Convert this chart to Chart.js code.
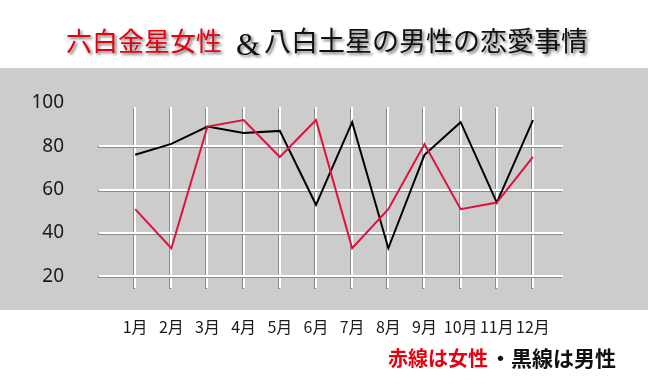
<!DOCTYPE html>
<html>
<head>
<meta charset="UTF-8">
<title>恋愛事情</title>
<style>
  body { margin: 0; background: #fff; }
  #wrap { width: 648px; height: 388px; }
</style>
</head>
<body>
<div id="wrap"><canvas id="chart"></canvas></div>

<script src="https://cdn.jsdelivr.net/npm/chart.js@4.4.0/dist/chart.umd.min.js"></script>

<script>
const months = ['1月', '2月', '3月', '4月', '5月', '6月', '7月', '8月', '9月', '10月', '11月', '12月'];
const womanValues = [51, 33, 89, 92, 75, 92, 33, 51, 81, 51, 54, 75];
const manValues = [76, 81, 89, 86, 87, 53, 91, 33, 76, 91, 54, 92];
const yTicks = [20, 40, 60, 80, 100];

const titleWoman = '六白金星女性';
const titleAmp = '&';
const titleMan = '八白土星の男性の恋愛事情';
const noteRed = '赤線は女性';
const noteBlack = '・黒線は男性';

const CJK = '"Noto Sans CJK JP", "Noto Sans", sans-serif';

// gray band, title, note under the chart
const decor = {
  id: 'decor',
  beforeDraw(chart) {
    const ctx = chart.ctx;
    ctx.save();
    ctx.fillStyle = '#cccccc';
    ctx.fillRect(0, 68, chart.width, 242);

    ctx.shadowColor = 'rgba(0,0,0,0.55)';
    ctx.shadowBlur = 3;
    ctx.shadowOffsetX = 2;
    ctx.shadowOffsetY = 2;
    ctx.textBaseline = 'middle';
    ctx.font = '26px ' + CJK;
    ctx.fillStyle = '#e60012';
    ctx.fillText(titleWoman, 66, 41);
    ctx.font = '31px "Liberation Serif", serif';
    ctx.fillStyle = '#111';
    ctx.fillText(titleAmp, 236, 47);
    ctx.font = '27px ' + CJK;
    ctx.fillText(titleMan, 264, 41);

    ctx.shadowColor = 'transparent';
    ctx.font = 'bold 20px ' + CJK;
    ctx.fillStyle = '#e60012';
    ctx.fillText(noteRed, 388, 358);
    ctx.font = 'bold 21px ' + CJK;
    ctx.fillStyle = '#111';
    ctx.fillText(noteBlack, 490, 358);
    ctx.restore();

    // embossed look for the grid lines
    ctx.shadowColor = '#8c8c8c';
    ctx.shadowBlur = 0;
    ctx.shadowOffsetX = -1;
    ctx.shadowOffsetY = 1;
  },
  beforeDatasetsDraw(chart) {
    const ctx = chart.ctx;
    ctx.shadowColor = 'transparent';
    ctx.shadowOffsetX = 0;
    ctx.shadowOffsetY = 0;
  }
};

const toPoints = vals => vals.map((v, i) => ({ x: i + 1, y: v }));

new Chart(document.getElementById('chart'), {
  type: 'line',
  data: {
    datasets: [{
        data: toPoints(womanValues),
        borderColor: '#dc143c',
        borderWidth: 2,
        pointRadius: 0,
        tension: 0
      }, {
        data: toPoints(manValues),
        borderColor: '#000',
        borderWidth: 2,
        pointRadius: 0,
        tension: 0
      }
    ]
  },
  options: {
    responsive: true,
    maintainAspectRatio: false,
    animation: false,
    layout: { padding: { top: 107, right: 85, left: 0, bottom: 0 } },
    plugins: {
      legend: { display: false },
      tooltip: { enabled: false }
    },
    scales: {
      x: {
        type: 'linear',
        min: 0,
        max: 12.83,
        bounds: 'data',
        afterBuildTicks: s => { s.ticks = months.map((m, i) => ({ value: i + 1 })); },
        afterFit: s => { s.height = 100; },
        border: { display: false },
        grid: { color: '#fff', lineWidth: 2, drawTicks: false },
        ticks: {
          z: 1,
          autoSkip: false,
          maxRotation: 0,
          padding: 29,
          color: '#1a1a1a',
          font: { family: CJK, size: 16 },
          callback: v => months[v - 1]
        }
      },
      y: {
        min: 14.7,
        max: 98,
        bounds: 'data',
        afterBuildTicks: s => { s.ticks = yTicks.map(v => ({ value: v })); },
        afterFit: s => { s.width = 99; },
        border: { display: false },
        grid: {
          color: c => (c.tick && c.tick.value > 98) ? 'transparent' : '#fff',
          lineWidth: 2,
          drawTicks: false
        },
        ticks: {
          z: 1,
          padding: 35,
          color: '#1a1a1a',
          font: { family: '"Noto Sans", sans-serif', size: 19 }
        }
      }
    }
  },
  plugins: [decor]
});
</script>
</body>
</html>
